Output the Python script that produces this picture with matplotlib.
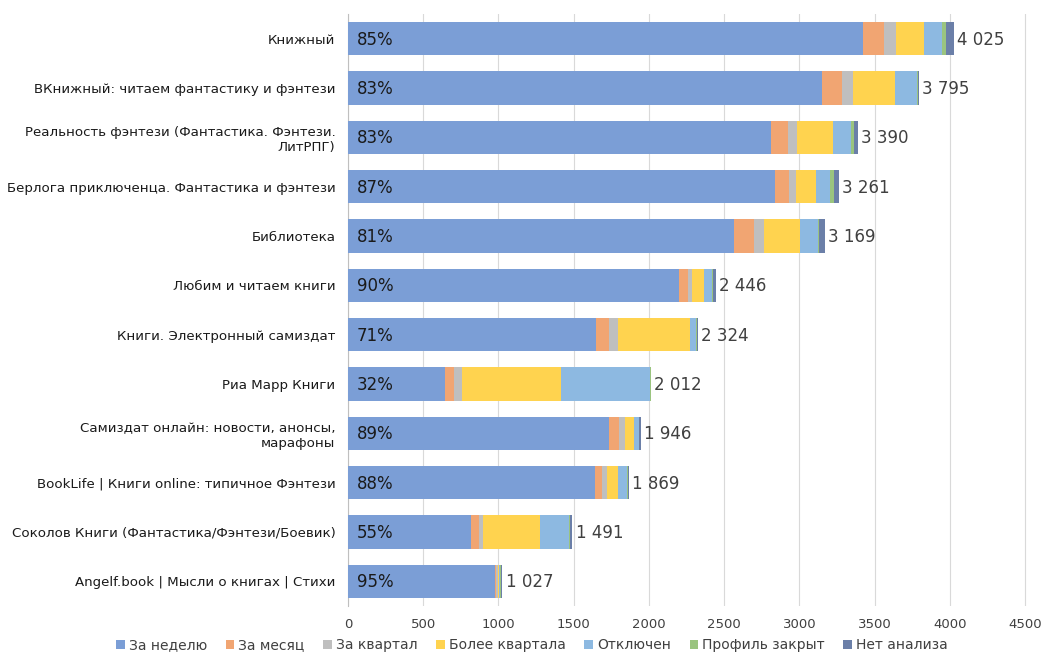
import matplotlib
matplotlib.use("Agg")
import matplotlib.pyplot as plt
import numpy as np

categories = [
    "Книжный",
    "ВКнижный: читаем фантастику и фэнтези",
    "Реальность фэнтези (Фантастика. Фэнтези.\nЛитРПГ)",
    "Берлога приключенца. Фантастика и фэнтези",
    "Библиотека",
    "Любим и читаем книги",
    "Книги. Электронный самиздат",
    "Риа Марр Книги",
    "Самиздат онлайн: новости, анонсы,\nмарафоны",
    "BookLife | Книги online: типичное Фэнтези",
    "Соколов Книги (Фантастика/Фэнтези/Боевик)",
    "Angelf.book | Мысли о книгах | Стихи",
]
series_names = ["За неделю", "За месяц", "За квартал", "Более квартала",
                "Отключен", "Профиль закрыт", "Нет анализа"]
week    = [3421, 3150, 2814, 2837, 2567, 2201, 1650, 644, 1732, 1645, 820, 976]
month   = [145, 136, 113, 96, 129, 57, 83, 61, 72, 41, 51, 8]
quarter = [75, 74, 60, 48, 66, 32, 60, 53, 36, 33, 27, 16]
older   = [187, 279, 234, 133, 245, 74, 483, 655, 59, 74, 376, 5]
off     = [120, 142, 121, 92, 119, 57, 38, 594, 36, 62, 198, 8]
closed  = [30, 10, 24, 24, 6, 6, 5, 5, 2, 9, 4, 4]
noan    = [47, 4, 24, 31, 37, 19, 5, 0, 9, 5, 15, 10]
totals = [4025, 3795, 3390, 3261, 3169, 2446, 2324, 2012, 1946, 1869, 1491, 1027]
pct_labels = ["85%", "83%", "83%", "87%", "81%", "90%", "71%", "32%", "89%", "88%", "55%", "95%"]
total_labels = ["4 025", "3 795", "3 390", "3 261", "3 169", "2 446", "2 324",
                "2 012", "1 946", "1 869", "1 491", "1 027"]
xticks = [0, 500, 1000, 1500, 2000, 2500, 3000, 3500, 4000, 4500]

colors = ["#7B9ED6", "#F1A572", "#BFBFBF", "#FFD34F", "#8DB9E1", "#9AC47F", "#6B7FA8"]

plt.rcParams['font.family'] = ['DejaVu Sans']
fig = plt.figure(figsize=(10.56, 6.62), dpi=100)
ax = fig.add_axes([348/1056, 1-606/662, (1040-348)/1056, (606-14)/662])

series = [week, month, quarter, older, off, closed, noan]
y = np.arange(len(categories))
left = np.zeros(len(categories))
for name, vals, c in zip(series_names, series, colors):
    vals = np.array(vals, dtype=float)
    ax.barh(y, vals, left=left, height=0.67, color=c, label=name, zorder=3)
    left += vals

for i in range(len(categories)):
    ax.text(58, y[i] + 0.02, pct_labels[i], va="center", ha="left", fontsize=12, color="#1a1a1a", zorder=4)
    ax.text(totals[i] + 22, y[i] + 0.02, total_labels[i], va="center", ha="left", fontsize=12, color="#404040", zorder=4)

ax.set_ylim(len(categories) - 0.5, -0.5)
ax.set_xlim(0, 4600)
ax.set_xticks(xticks)
ax.set_xticklabels([str(t) for t in xticks], fontsize=9.5, color="#404040")
ax.set_yticks(y)
ax.set_yticklabels(categories, fontsize=9.6, color="#1a1a1a")
ax.tick_params(axis="y", length=0, pad=9)
ax.tick_params(axis="x", length=0, pad=9)
ax.grid(axis="x", color="#D9D9D9", linewidth=0.8, zorder=0)
for s in ["top", "right", "bottom"]:
    ax.spines[s].set_visible(False)
ax.spines["left"].set_color("#BFBFBF")

leg = fig.legend(loc="center", bbox_to_anchor=(532/1056, 1-645/662), ncol=7, frameon=False,
                 fontsize=10, handlelength=0.6, handleheight=0.6, handletextpad=0.3,
                 columnspacing=1.35)
for t in leg.get_texts():
    t.set_color("#404040")

fig.savefig("out.png", dpi=100)
